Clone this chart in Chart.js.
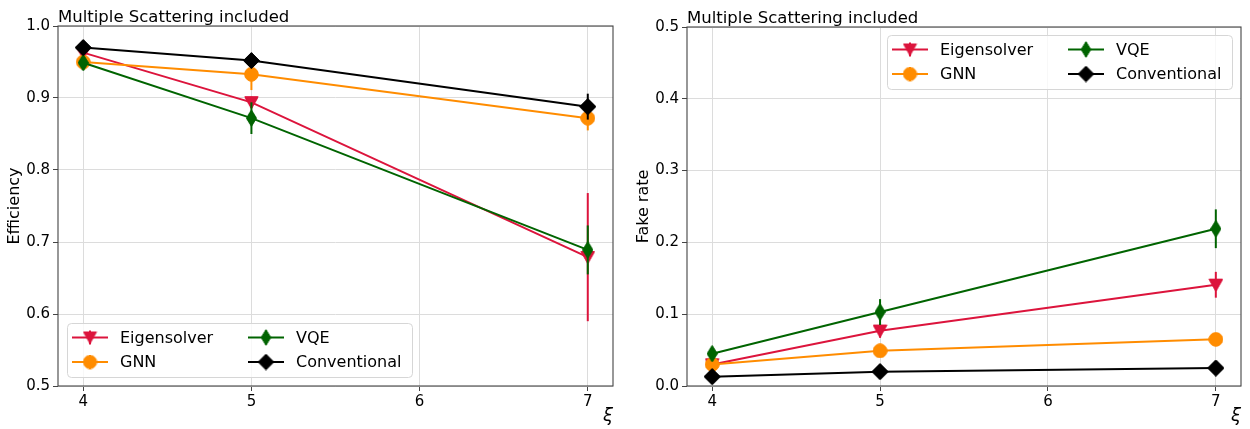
<!DOCTYPE html>
<html><head><meta charset="utf-8">
<script src="https://cdn.jsdelivr.net/npm/chart.js@4.4.1/dist/chart.umd.min.js"></script>
<style>
html,body{margin:0;padding:0;background:#fff;}
#wrap{position:relative;width:1250px;height:429px;overflow:hidden;}
canvas{position:absolute;top:0;}
</style>
</head><body>
<div id="wrap">
<canvas id="c1" width="625" height="429" style="left:0px"></canvas>
<canvas id="c2" width="625" height="429" style="left:625px"></canvas>
</div>
<script>
// ---------- data ----------
const xiValues = [4, 5, 7];
const xTicks = [4, 5, 6, 7];
const xTickLabels = ['4', '5', '6', '7'];

const effTicks = [0.5, 0.6, 0.7, 0.8, 0.9, 1.0];
const effTickLabels = ['0.5', '0.6', '0.7', '0.8', '0.9', '1.0'];
const fakeTicks = [0.0, 0.1, 0.2, 0.3, 0.4, 0.5];
const fakeTickLabels = ['0.0', '0.1', '0.2', '0.3', '0.4', '0.5'];

const seriesNames = ['Eigensolver', 'GNN', 'VQE', 'Conventional'];

const effEigensolver = [0.963, 0.894, 0.679];
const effEigensolverErr = [0.004, 0.008, 0.089];
const effGNN = [0.950, 0.933, 0.872];
const effGNNErr = [0.004, 0.022, 0.017];
const effVQE = [0.949, 0.872, 0.689];
const effVQEErr = [0.006, 0.022, 0.034];
const effConventional = [0.970, 0.952, 0.888];
const effConventionalErr = [0.003, 0.004, 0.018];

const fakeEigensolver = [0.030, 0.077, 0.141];
const fakeEigensolverErr = [0.004, 0.010, 0.018];
const fakeGNN = [0.030, 0.049, 0.065];
const fakeGNNErr = [0.003, 0.004, 0.004];
const fakeVQE = [0.045, 0.103, 0.219];
const fakeVQEErr = [0.005, 0.018, 0.027];
const fakeConventional = [0.013, 0.020, 0.025];
const fakeConventionalErr = [0.002, 0.002, 0.002];

const titleText = 'Multiple Scattering included';
const xLabelText = 'ξ';
// ---------- styles ----------
const colors = ['#dc143c', '#ff8c00', '#006400', '#000000'];
const shapes = ['triDown', 'circle', 'thinDiamond', 'diamond'];
const FONT = "'DejaVu Sans', 'Liberation Sans', sans-serif";

function makeMarker(shape, color) {
  const c = document.createElement('canvas');
  let w, h;
  if (shape === 'triDown') { w = 15; h = 14; }
  else if (shape === 'circle') { w = 15; h = 15; }
  else if (shape === 'thinDiamond') { w = 11; h = 17; }
  else { w = 17; h = 17; }
  c.width = w; c.height = h;
  const g = c.getContext('2d');
  g.fillStyle = color; g.strokeStyle = color; g.lineWidth = 1;
  g.beginPath();
  if (shape === 'triDown') {
    g.moveTo(1, 1.5); g.lineTo(w - 1, 1.5); g.lineTo(w / 2, h - 1); g.closePath();
  } else if (shape === 'circle') {
    g.arc(w / 2, h / 2, 6.6, 0, Math.PI * 2);
  } else {
    g.moveTo(w / 2, 0.7); g.lineTo(w - 0.7, h / 2); g.lineTo(w / 2, h - 0.7); g.lineTo(0.7, h / 2); g.closePath();
  }
  g.fill(); g.stroke();
  return c;
}
const markers = shapes.map((s, i) => makeMarker(s, colors[i]));

function buildDatasets(vals) {
  return vals.map((v, i) => ({
    label: seriesNames[i],
    data: xiValues.map((x, j) => ({ x: x, y: v[j] })),
    borderColor: colors[i],
    backgroundColor: colors[i],
    borderWidth: 2,
    pointStyle: markers[i],
    pointRadius: 7,
    fill: false,
    tension: 0,
    order: 4 - i
  }));
}

function overlay(opts) {
  return {
    id: 'overlay',
    afterDatasetDraw(chart, args) {
      const i = args.index;
      const errs = opts.errs[i];
      const vals = opts.vals[i];
      const ctx = chart.ctx;
      const ys = chart.scales.y;
      const meta = args.meta;
      ctx.save();
      ctx.strokeStyle = colors[i];
      ctx.lineWidth = 2;
      meta.data.forEach((pt, j) => {
        ctx.beginPath();
        ctx.moveTo(pt.x, ys.getPixelForValue(vals[j] - errs[j]));
        ctx.lineTo(pt.x, ys.getPixelForValue(vals[j] + errs[j]));
        ctx.stroke();
      });
      // redraw own marker on top of bar
      meta.data.forEach((pt) => {
        const m = markers[i];
        ctx.drawImage(m, pt.x - m.width / 2, pt.y - m.height / 2);
      });
      ctx.restore();
    },
    afterDatasetsDraw(chart) {
      const a = chart.chartArea, ctx = chart.ctx;
      ctx.save();
      ctx.strokeStyle = '#444';
      ctx.lineWidth = 1.1;
      ctx.strokeRect(a.left, a.top, a.right - a.left, a.bottom - a.top);
      ctx.restore();
    },
    afterDraw(chart) {
      const a = chart.chartArea, ctx = chart.ctx;
      ctx.save();
      ctx.fillStyle = '#000';
      // title
      ctx.font = '16.5px ' + FONT;
      ctx.textAlign = 'left'; ctx.textBaseline = 'alphabetic';
      ctx.fillText(titleText, a.left, a.top - 4);
      // y label
      ctx.save();
      ctx.translate(a.left - 43.5, (a.top + a.bottom) / 2);
      ctx.rotate(-Math.PI / 2);
      ctx.font = '16px ' + FONT;
      ctx.textAlign = 'center'; ctx.textBaseline = 'middle';
      ctx.fillText(opts.yLabel, 0, 0);
      ctx.restore();
      // x label
      ctx.font = 'italic 18px ' + FONT;
      ctx.textAlign = 'right'; ctx.textBaseline = 'middle';
      ctx.fillText(xLabelText, a.right, a.bottom + 30);
      // legend
      const bw = 345, bh = 54;
      let bx, by;
      if (opts.legendPos === 'lowerleft') { bx = a.left + 9; by = a.bottom - 9 - bh; }
      else { bx = a.right - 9 - bw; by = a.top + 8; }
      ctx.beginPath();
      if (ctx.roundRect) ctx.roundRect(bx + 0.5, by + 0.5, bw, bh, 4); else ctx.rect(bx + 0.5, by + 0.5, bw, bh);
      ctx.fillStyle = 'rgba(255,255,255,0.8)';
      ctx.fill();
      ctx.strokeStyle = '#d6d6d6'; ctx.lineWidth = 1;
      ctx.stroke();
      const rows = [by + 14.5, by + 39];
      const cols = [bx + 5, bx + 181];
      for (let i = 0; i < 4; i++) {
        const cx = cols[Math.floor(i / 2)], cy = rows[i % 2];
        ctx.strokeStyle = colors[i]; ctx.lineWidth = 2;
        ctx.beginPath(); ctx.moveTo(cx, cy); ctx.lineTo(cx + 36, cy); ctx.stroke();
        ctx.beginPath(); ctx.moveTo(cx + 18, cy - 7); ctx.lineTo(cx + 18, cy + 7); ctx.stroke();
        const m = markers[i];
        ctx.drawImage(m, cx + 18 - m.width / 2, cy - m.height / 2);
        ctx.fillStyle = '#000';
        ctx.font = '16px ' + FONT;
        ctx.textAlign = 'left'; ctx.textBaseline = 'middle';
        ctx.fillText(seriesNames[i], cx + 48, cy + 1);
      }
      ctx.restore();
    }
  };
}

function makeChart(canvasId, vals, errs, yTicks, yLabels, yLabel, padTop, padRight, yWidth, legendPos) {
  const ctx = document.getElementById(canvasId);
  return new Chart(ctx, {
    type: 'line',
    data: { datasets: buildDatasets(vals) },
    options: {
      responsive: false,
      animation: false,
      events: [],
      layout: { padding: { top: padTop, right: padRight, left: 0, bottom: 0 } },
      plugins: { legend: { display: false }, tooltip: { enabled: false }, title: { display: false } },
      scales: {
        x: {
          type: 'linear',
          min: 3.85, max: 7.15,
          afterBuildTicks: (s) => { s.ticks = xTicks.map(v => ({ value: v })); },
          afterFit: (s) => { s.height = 43; },
          border: { display: false },
          grid: { color: '#dcdcdc', lineWidth: 1, drawTicks: true, tickLength: 5, tickColor: '#444', tickWidth: 1 },
          ticks: {
            color: '#000', font: { family: FONT, size: 15 }, padding: 2, maxRotation: 0, autoSkip: false,
            callback: (v, i) => xTickLabels[i]
          }
        },
        y: {
          type: 'linear',
          min: yTicks[0], max: yTicks[yTicks.length - 1],
          afterBuildTicks: (s) => { s.ticks = yTicks.map(v => ({ value: v })); },
          afterFit: (s) => { s.width = yWidth; },
          border: { display: false },
          grid: { color: '#dcdcdc', lineWidth: 1, drawTicks: true, tickLength: 5, tickColor: '#444', tickWidth: 1 },
          ticks: {
            color: '#000', font: { family: FONT, size: 15 }, padding: 3, autoSkip: false,
            callback: (v, i) => yLabels[i]
          }
        }
      }
    },
    plugins: [overlay({ vals: vals, errs: errs, yLabel: yLabel, legendPos: legendPos })]
  });
}

makeChart('c1',
  [effEigensolver, effGNN, effVQE, effConventional],
  [effEigensolverErr, effGNNErr, effVQEErr, effConventionalErr],
  effTicks, effTickLabels, 'Efficiency', 26, 12, 58, 'lowerleft');
makeChart('c2',
  [fakeEigensolver, fakeGNN, fakeVQE, fakeConventional],
  [fakeEigensolverErr, fakeGNNErr, fakeVQEErr, fakeConventionalErr],
  fakeTicks, fakeTickLabels, 'Fake rate', 27, 8, 62, 'upperright');
</script>
</body></html>
